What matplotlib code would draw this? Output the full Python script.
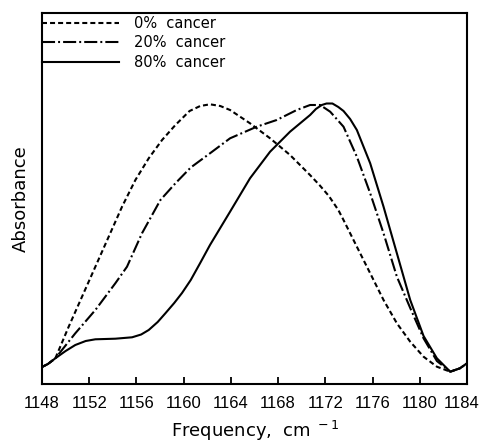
import matplotlib
matplotlib.use("Agg")
import matplotlib.pyplot as plt
import matplotlib.transforms as mtransforms

# 0% cancer (dashed)
x0 = [1148.0, 1148.5, 1149.13, 1150.26, 1151.39, 1152.52, 1153.65, 1154.78, 1155.91, 1157.04,
      1158.17, 1159.30, 1160.5, 1161.4, 1162.23, 1163.1, 1163.93, 1165.62, 1167.32, 1169.01,
      1170.7, 1171.5, 1172.3, 1173.1, 1173.54, 1174.67, 1175.80, 1176.93, 1178.06, 1179.19,
      1180.32, 1181.45, 1182.58, 1183.4, 1184.0]
y0 = [17, 20, 25.7, 57.3, 87.3, 117.3, 147.3, 177.3, 204, 225.7,
      244, 259, 273, 278, 279.7, 278, 274, 260.7, 245.7, 229,
      209, 199, 188, 174, 164, 137.3, 110.7, 84, 60.7, 42.3,
      27.3, 17.3, 12.3, 15.7, 20.7]

# 20% cancer (dash-dot)
x20 = [1148.0, 1148.5, 1149.13, 1150.82, 1152.52, 1154.21, 1155.2, 1156.47, 1158.03, 1159.30,
       1160.6, 1162.23, 1163.93, 1166.19, 1167.88, 1169.58, 1170.71, 1171.56, 1172.41, 1173.54,
       1174.67, 1175.80, 1176.93, 1178.06, 1179.19, 1180.32, 1181.45, 1182.58, 1183.4, 1184.0]
y20 = [17, 20, 25.7, 50.7, 74, 100.7, 117.3, 150.7, 184, 200.7,
       216.5, 230.7, 245.7, 257.3, 264, 274, 279, 279, 272.3, 257.3,
       227.3, 190.7, 150.7, 107.3, 76, 45.7, 23, 12.3, 15.7, 20.7]

# 80% cancer (solid)
x80 = [1148.0, 1148.5, 1149.13, 1150.0, 1150.82, 1151.7, 1152.52, 1154.21, 1155.63, 1156.4,
       1157.04, 1157.8, 1158.45, 1159.2, 1159.86, 1160.6, 1161.4, 1162.23, 1163.93, 1165.62,
       1167.32, 1169.01, 1170.71, 1171.2, 1171.7, 1172.1, 1172.6, 1173.1, 1173.54, 1174.1,
       1174.67, 1175.80, 1176.93, 1178.06, 1179.19, 1180.32, 1181.45, 1182.58, 1183.4, 1184.0]
y80 = [17, 20, 25.7, 33, 39, 43, 44.7, 45.3, 46.7, 49.5,
       54, 62, 70.7, 81, 91, 104, 121, 139, 172.3, 205.7,
       232.3, 252.3, 269, 275, 279, 280.5, 280.5, 277, 273, 265,
       254, 220.7, 177.3, 130.7, 84, 48, 25.7, 12.3, 15.7, 20.7]

xticks = [1148, 1152, 1156, 1160, 1164, 1168, 1172, 1176, 1180, 1184]
labels = ["0%  cancer", "20%  cancer", "80%  cancer"]

plt.rcParams['font.family'] = ['DejaVu Sans']
plt.rcParams['lines.scale_dashes'] = False

fig = plt.figure(figsize=(4.82, 4.42), dpi=100)
ax = fig.add_axes([42/482, 1-384/442, 425/482, 371/442])

lw = 1.5
ax.plot(x0, y0, color='black', lw=lw, dashes=(3.6, 2.2), label=labels[0])
ax.plot(x20, y20, color='black', lw=lw, dashes=(9.4, 2.2, 1.4, 2.2), label=labels[1])
ax.plot(x80, y80, color='black', lw=lw, label=labels[2])

ax.set_xlim(1148, 1184)
ax.set_ylim(0, 371)
ax.set_xticks(xticks)
ax.set_xticklabels([str(t) for t in xticks], fontsize=12, family=['Liberation Sans', 'DejaVu Sans'])
ax.set_yticks([])
ax.tick_params(axis='x', direction='in', length=5, width=1.3, pad=9)
for s in ax.spines.values():
    s.set_linewidth(1.5)

# nudge outermost label so it stays inside the figure, as in the reference
last = ax.get_xticklabels()[-1]
last.set_transform(last.get_transform() + mtransforms.ScaledTranslation(-5/100, 0, fig.dpi_scale_trans))

ax.set_xlabel("Frequency,  cm$^{\\ -1}$", fontsize=13, labelpad=5)
ax.set_ylabel("Absorbance", fontsize=13, labelpad=9)

leg = ax.legend(loc='upper left', bbox_to_anchor=(0, 1 - 3/371), frameon=False, fontsize=10.5,
                handlelength=5.3, handletextpad=1.0, borderaxespad=0.0, borderpad=0.0,
                labelspacing=0.3)
fig.savefig("out.png", dpi=100)
